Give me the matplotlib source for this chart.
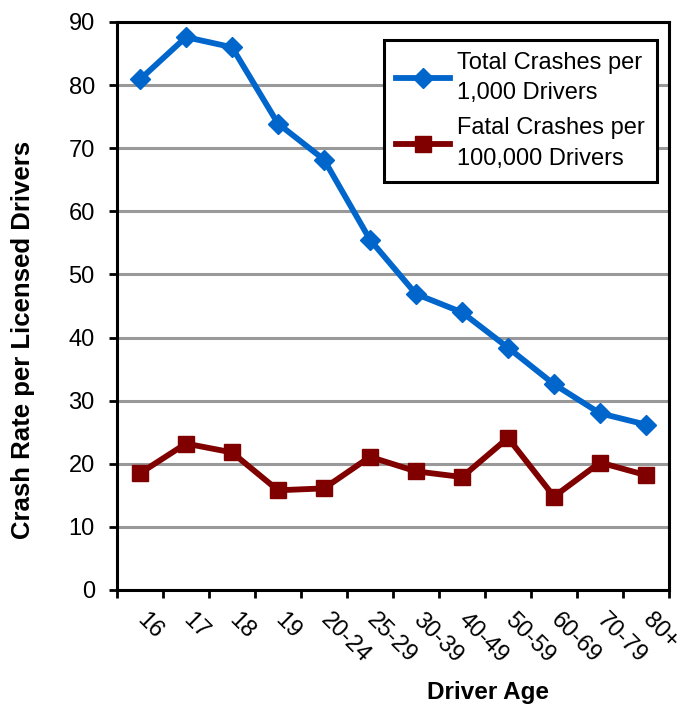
import matplotlib
matplotlib.use("Agg")
import matplotlib.pyplot as plt
import numpy as np

plt.rcParams['font.family'] = ['Liberation Sans', 'DejaVu Sans']

ages = ["16", "17", "18", "19", "20-24", "25-29", "30-39", "40-49", "50-59", "60-69", "70-79", "80+"]
total_crashes = [80.9, 87.6, 86.0, 73.9, 68.2, 55.5, 46.9, 44.0, 38.4, 32.6, 28.0, 26.2]
fatal_crashes = [18.5, 23.2, 21.8, 15.8, 16.1, 21.1, 18.8, 17.9, 24.1, 14.8, 20.2, 18.2]
yticks = [0, 10, 20, 30, 40, 50, 60, 70, 80, 90]

fig = plt.figure(figsize=(6.8, 7.06), dpi=100)
ax = fig.add_axes([117/680, 1-590/706, (669-117)/680, (590-22)/706])

x = np.arange(len(ages))
ax.plot(x, total_crashes, color='#0066CC', lw=4.2, marker='D', markersize=10.5,
        label='Total Crashes per\n1,000 Drivers', zorder=3, solid_joinstyle='round')
ax.plot(x, fatal_crashes, color='#800000', lw=4.2, marker='s', markersize=11.5,
        label='Fatal Crashes per\n100,000 Drivers', zorder=3)

ax.set_xlim(-0.5, len(ages) - 0.5)
ax.set_ylim(0, 90)
ax.set_yticks(yticks)
ax.set_yticklabels([str(v) for v in yticks], fontsize=17)
ax.yaxis.grid(True, color='#999999', lw=2.2)
ax.set_axisbelow(True)

ax.set_xticks(np.arange(len(ages) + 1) - 0.5)
ax.set_xticklabels([])
ax.set_xticks(x, minor=True)
ax.set_xticklabels(ages, minor=True, fontsize=17, rotation=-45,
                   ha='left', va='center', rotation_mode='anchor')
ax.tick_params(axis='x', which='minor', length=0, pad=19)
ax.tick_params(axis='x', which='major', direction='out', length=6, width=2)
ax.tick_params(axis='y', direction='out', length=6, width=2, pad=10)

for s in ax.spines.values():
    s.set_linewidth(2.2)
    s.set_color('black')

fig.text(23/680, 1-340/706, 'Crash Rate per Licensed Drivers', fontsize=18.5,
         fontweight='bold', rotation=90, ha='center', va='center')
fig.text(488/680, 1-692/706, 'Driver Age', fontsize=17.5, fontweight='bold',
         ha='center', va='center')

leg = ax.legend(loc='upper right', bbox_to_anchor=(0.978, 0.968), borderaxespad=0,
                fontsize=17, frameon=True, fancybox=False, handlelength=2.3,
                handletextpad=0.3, labelspacing=0.55, borderpad=0.5)
leg.get_frame().set_edgecolor('black')
leg.get_frame().set_linewidth(2.2)
leg.get_frame().set_alpha(1)
for t in leg.get_texts():
    t.set_linespacing(1.5)

fig.savefig('out.png', dpi=100)
